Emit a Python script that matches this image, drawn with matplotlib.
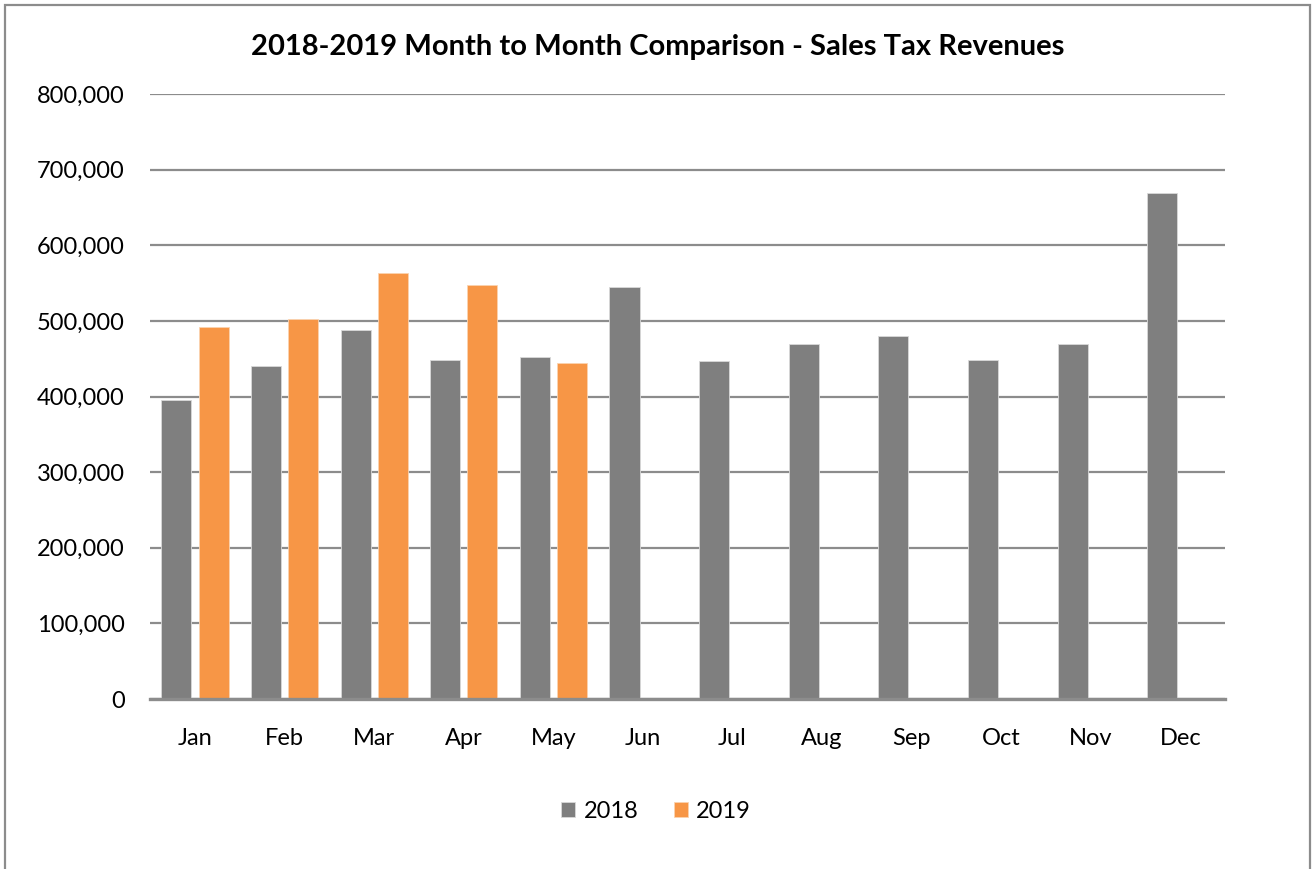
import matplotlib
matplotlib.use("Agg")
import matplotlib.pyplot as plt
import numpy as np
from matplotlib.patches import Rectangle
from matplotlib.ticker import FuncFormatter


months = ["Jan", "Feb", "Mar", "Apr", "May", "Jun", "Jul", "Aug", "Sep", "Oct", "Nov", "Dec"]
sales_2018 = [396000, 440000, 488000, 449000, 452000, 545000, 447000, 470000, 480000, 449000, 470000, 669000]
sales_2019 = [492000, 502000, 563000, 547000, 444000]
y_ticks = [0, 100000, 200000, 300000, 400000, 500000, 600000, 700000, 800000]

COLORS = {
    "2018": "#7f7f7f",
    "2019": "#f79646",
    "grid": "#8c8c8c",
    "frame": "#8c8c8c",
    "text": "#000000",
}

plt.rcParams["font.family"] = ["Lato", "DejaVu Sans"]

fig = plt.figure(figsize=(13.12, 8.69), dpi=100)
ax = fig.add_axes([0.1143, 0.1956, 0.8197, 0.696])

x = np.arange(len(months))
width = 0.335
ax.bar(x - 0.205, sales_2018, width, color=COLORS["2018"], edgecolor="#d9d9d9", linewidth=0.6, label="2018", zorder=3)
ax.bar(x[: len(sales_2019)] + 0.21, sales_2019, width, color=COLORS["2019"], edgecolor="#fbd3b0", linewidth=0.6, label="2019", zorder=3)

ax.set_xlim(-0.5, len(months) - 0.5)
ax.set_ylim(0, 800000)
ax.set_yticks(y_ticks)
ax.yaxis.set_major_formatter(FuncFormatter(lambda v, _: f"{int(v):,}"))
ax.set_xticks(x)
ax.set_xticklabels(months)
ax.grid(axis="y", color=COLORS["grid"], linewidth=1.6, zorder=0)
ax.set_axisbelow(True)
for side in ("top", "right", "left"):
    ax.spines[side].set_visible(False)
ax.spines["bottom"].set_color(COLORS["grid"])
ax.spines["bottom"].set_linewidth(2.4)
ax.spines["bottom"].set_zorder(4)
ax.tick_params(axis="both", length=0, labelsize=17, colors=COLORS["text"])
ax.tick_params(axis="x", pad=21)
ax.tick_params(axis="y", pad=18)

fig.text(0.5015, 0.946, "2018-2019 Month to Month Comparison - Sales Tax Revenues",
         ha="center", va="center", fontsize=21, fontweight="bold", color=COLORS["text"])

fig.legend(loc="center", bbox_to_anchor=(0.5, 0.066), ncol=2, frameon=False, fontsize=17,
           handlelength=0.6, handleheight=0.6, handletextpad=0.35, columnspacing=1.5)

fig.patches.append(Rectangle((5 / 1312, -0.05), 1305 / 1312, 1.05 - 5 / 869, transform=fig.transFigure,
                             fill=False, edgecolor=COLORS["frame"], linewidth=1.6))

fig.savefig("out.png", dpi=100)
